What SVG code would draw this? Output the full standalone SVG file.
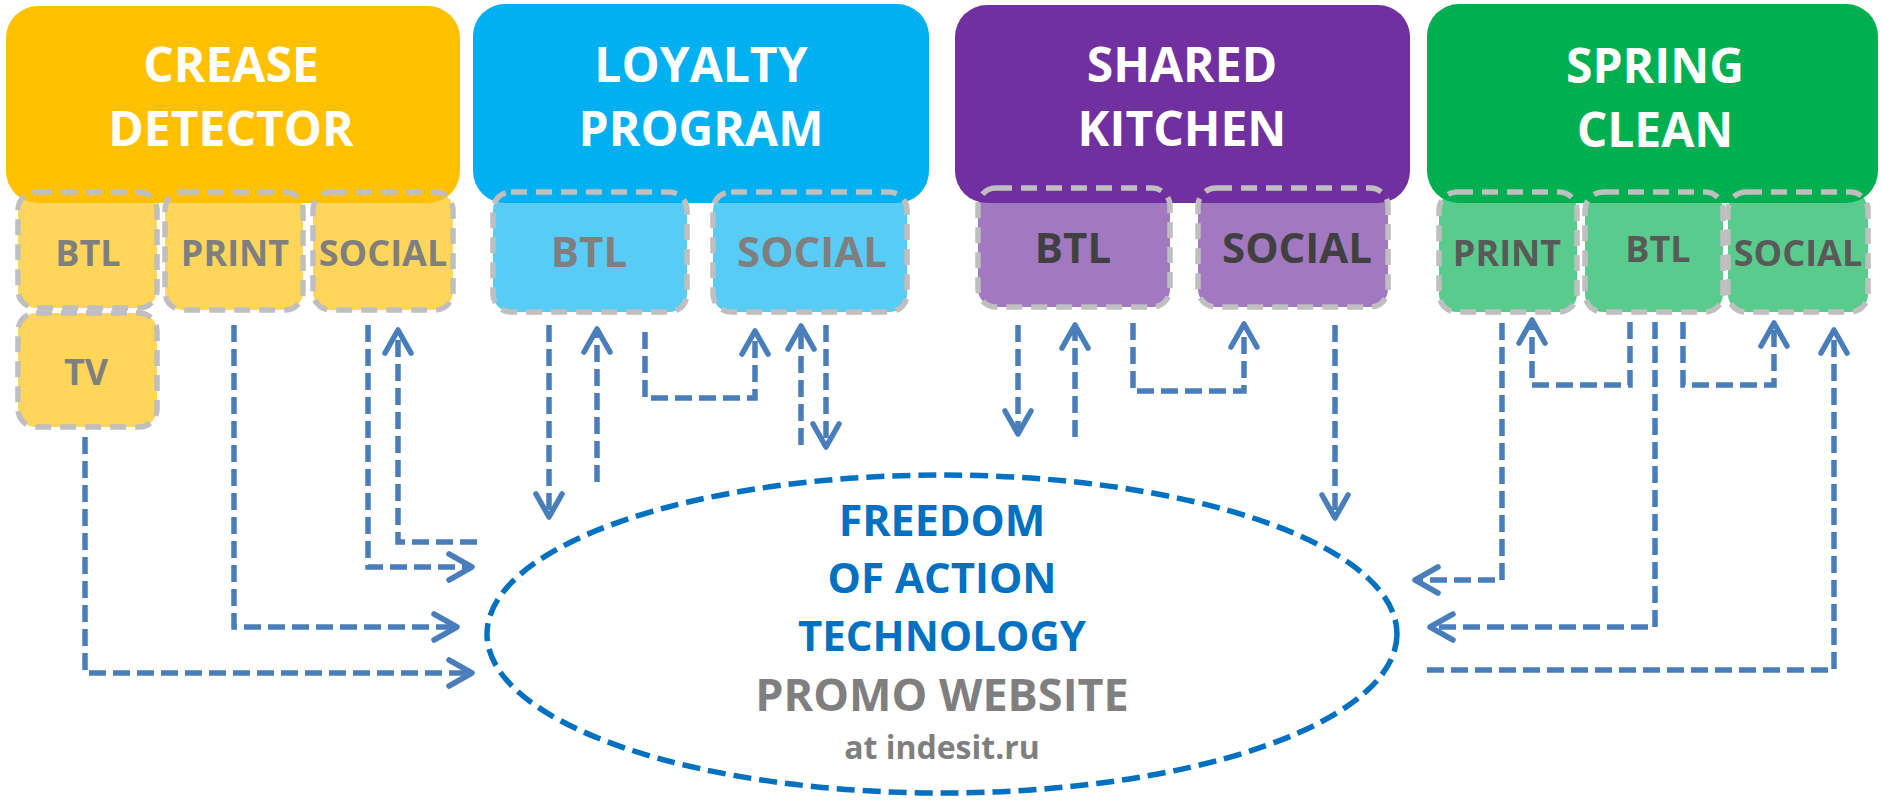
<svg xmlns="http://www.w3.org/2000/svg" width="1883" height="800" viewBox="0 0 1883 800">
<defs>
<style>
text{font-family:"Open Sans","Liberation Sans",sans-serif;font-weight:700;text-anchor:middle}
.title{fill:#FFFFFF;font-size:48px}
.sub{stroke:#BFBFBF;stroke-width:5.5;stroke-dasharray:16 9;fill-opacity:0.65}
.s36{font-size:36px}
.s41{font-size:42px}
.g1{fill:#7F7F7F}
.g2{fill:#404040}
.g3{fill:#595959}
.conn path{fill:none;stroke:#4A7EBB;stroke-width:5.5;stroke-dasharray:17 7;marker-end:url(#arr)}
</style>
<marker id="arr" markerUnits="userSpaceOnUse" markerWidth="40" markerHeight="40" refX="0" refY="0" orient="auto" overflow="visible">
<path d="M-23,-13 L0,0 L-23,13" fill="none" stroke="#4A7EBB" stroke-width="5.5" stroke-dasharray="none" stroke-linecap="round" stroke-linejoin="round"/>
</marker>
</defs>
<rect width="1883" height="800" fill="#FFFFFF"/>

<g id="crease-detector">
<rect x="6" y="6" width="454" height="197" rx="32" fill="#FFC000"/>
<text class="title" x="231" y="82">CREASE</text>
<text class="title" x="231" y="146">DETECTOR</text>
</g>
<g id="cd-btl"><rect class="sub" x="18" y="192" width="139" height="116" rx="18" fill="#FFC000"/><text class="s36 g1" x="88" y="266">BTL</text></g>
<g id="cd-print"><rect class="sub" x="165" y="192" width="138" height="118" rx="18" fill="#FFC000"/><text class="s36 g1" x="235" y="266">PRINT</text></g>
<g id="cd-social"><rect class="sub" x="313" y="192" width="140" height="118" rx="18" fill="#FFC000"/><text class="s36 g1" x="383" y="266">SOCIAL</text></g>
<g id="cd-tv"><rect class="sub" x="18" y="313" width="139" height="114" rx="18" fill="#FFC000"/><text class="s36 g1" x="86" y="385">TV</text></g>

<g id="loyalty-program">
<rect x="473" y="4" width="456" height="199" rx="32" fill="#00B0F0"/>
<text class="title" x="701" y="82">LOYALTY</text>
<text class="title" x="701" y="146">PROGRAM</text>
</g>
<g id="lp-btl"><rect class="sub" x="493" y="192" width="194" height="120" rx="18" fill="#00B0F0"/><text class="s41 g1" x="589" y="267">BTL</text></g>
<g id="lp-social"><rect class="sub" x="713" y="192" width="194" height="120" rx="18" fill="#00B0F0"/><text class="s41 g1" x="812" y="267">SOCIAL</text></g>

<g id="shared-kitchen">
<rect x="955" y="5" width="455" height="198" rx="32" fill="#7030A0"/>
<text class="title" x="1182" y="82">SHARED</text>
<text class="title" x="1182" y="146">KITCHEN</text>
</g>
<g id="sk-btl"><rect class="sub" x="978" y="188" width="192" height="119" rx="18" fill="#7030A0"/><text class="s41 g2" x="1073" y="263">BTL</text></g>
<g id="sk-social"><rect class="sub" x="1198" y="188" width="190" height="119" rx="18" fill="#7030A0"/><text class="s41 g2" x="1297" y="263">SOCIAL</text></g>

<g id="spring-clean">
<rect x="1427" y="4" width="451" height="199" rx="32" fill="#00B050"/>
<text class="title" x="1655" y="83">SPRING</text>
<text class="title" x="1655" y="147">CLEAN</text>
</g>
<g id="sc-print"><rect class="sub" x="1439" y="192" width="138" height="120" rx="18" fill="#00B050"/><text class="s36 g3" x="1507" y="266">PRINT</text></g>
<g id="sc-btl"><rect class="sub" x="1585" y="192" width="138" height="120" rx="18" fill="#00B050"/><text class="s36 g3" x="1658" y="262">BTL</text></g>
<g id="sc-social"><rect class="sub" x="1728" y="192" width="140" height="120" rx="18" fill="#00B050"/><text class="s36 g3" x="1798" y="266">SOCIAL</text></g>

<g id="promo-website">
<ellipse cx="942" cy="634" rx="455" ry="159" fill="none" stroke="#0070C0" stroke-width="5.5" stroke-dasharray="18 8"/>
<text x="942" y="536" font-size="43" fill="#0070C0">FREEDOM</text>
<text x="942" y="593" font-size="42" fill="#0070C0">OF ACTION</text>
<text x="942" y="651" font-size="42" fill="#0070C0">TECHNOLOGY</text>
<text x="942" y="711" font-size="45" fill="#7F7F7F">PROMO WEBSITE</text>
<text x="942" y="759" font-size="32" fill="#7F7F7F">at indesit.ru</text>
</g>

<g id="connectors" class="conn">
<path d="M85,437 V673 H472"/>
<path d="M234,325 V627 H457"/>
<path d="M368,325 V567 H472"/>
<path d="M477,542 H398 V330"/>
<path d="M549,325 V517"/>
<path d="M597,482 V329"/>
<path d="M645,332 V398 H755 V331"/>
<path d="M801,445 V326"/>
<path d="M826,325 V447"/>
<path d="M1018,325 V434"/>
<path d="M1075,437 V325"/>
<path d="M1133,323 V391 H1244 V324"/>
<path d="M1335,325 V518"/>
<path d="M1502,323 V580 H1415"/>
<path d="M1630,322 V385 H1532 V320"/>
<path d="M1655,322 V627 H1430"/>
<path d="M1683,322 V385 H1774 V323"/>
<path d="M1427,670 H1834 V330"/>
</g>
</svg>
